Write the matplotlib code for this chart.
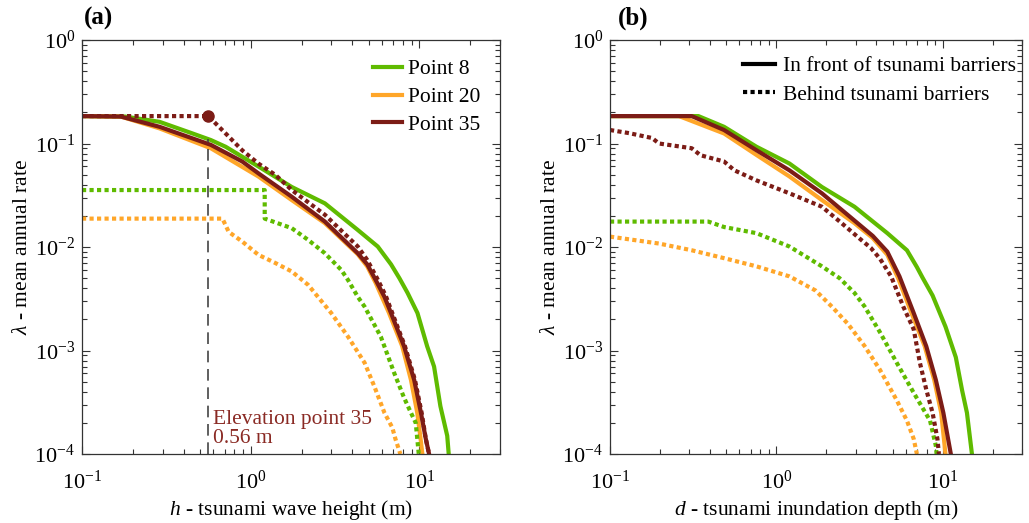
import math

import matplotlib
matplotlib.use("Agg")
import matplotlib.pyplot as plt
from matplotlib.lines import Line2D
from matplotlib.ticker import FuncFormatter, LogLocator, NullFormatter

plt.rcParams["font.family"] = ["Liberation Serif", "DejaVu Serif"]
plt.rcParams["mathtext.fontset"] = "custom"
plt.rcParams["mathtext.rm"] = "Liberation Serif"
plt.rcParams["mathtext.it"] = "Liberation Serif:italic"

GREEN = "#5fbb00"
ORANGE = "#ffa629"
DARKRED = "#7c1c16"

point_labels = ["Point 8", "Point 20", "Point 35"]
barrier_labels = ["In front of tsunami barriers", "Behind tsunami barriers"]
elevation_35 = 0.56

# (a) tsunami wave height, in front of barriers (solid)
h8_x = [0.1, 0.18, 0.288, 0.452, 0.58, 0.71, 1.11, 1.75, 2.75, 4.31, 5.66, 6.78, 7.6, 8.5, 9.73, 11.1, 12.2, 13.3, 14.6, 14.9]
h8_y = [0.184, 0.182, 0.162, 0.125, 0.108, 0.093, 0.060, 0.038, 0.0264, 0.0146, 0.0101, 0.0068, 0.005, 0.0036, 0.0023, 0.0011, 7e-4, 2.9e-4, 1.5e-4, 1e-4]
h20_x = [0.1, 0.17, 0.288, 0.58, 1.11, 1.75, 2.75, 4.31, 4.9, 5.5, 6.6, 7.9, 8.9, 9.7, 10.1, 10.4]
h20_y = [0.184, 0.182, 0.14, 0.09, 0.048, 0.0284, 0.017, 0.0085, 0.0065, 0.0045, 0.0023, 0.0011, 5.2e-4, 2.5e-4, 1.5e-4, 1e-4]
h35_x = [0.1, 0.17, 0.288, 0.452, 0.58, 0.89, 1.11, 1.75, 2.75, 4.31, 4.9, 5.5, 6.2, 6.78, 8.1, 9.3, 10.2, 10.9, 11.4]
h35_y = [0.184, 0.182, 0.145, 0.112, 0.097, 0.067, 0.0515, 0.0306, 0.0176, 0.0087, 0.0068, 0.0048, 0.0033, 0.0023, 0.0011, 5.2e-4, 2.5e-4, 1.4e-4, 1e-4]

# (a) behind barriers (dotted)
h8b_x = [0.1, 1.21, 1.21, 1.75, 2.19, 2.75, 3.44, 3.77, 4.31, 4.73, 5.9, 7.1, 8.1, 8.9, 9.5, 9.9]
h8b_y = [0.0355, 0.0355, 0.0188, 0.0152, 0.0117, 0.0087, 0.006, 0.0048, 0.0033, 0.00265, 0.00136, 6e-4, 3.5e-4, 2.5e-4, 2e-4, 1e-4]
h20b_x = [0.1, 0.68, 0.74, 0.89, 1.11, 1.4, 1.75, 2.19, 2.5, 3.0, 3.77, 4.73, 5.4, 6.2, 6.9, 7.2, 7.7]
h20b_y = [0.0188, 0.0188, 0.014, 0.0113, 0.0084, 0.007, 0.0058, 0.0043, 0.0033, 0.0023, 0.00136, 7.6e-4, 4.5e-4, 2.5e-4, 1.8e-4, 1.4e-4, 1e-4]
h35b_x = [0.1, 0.56, 0.71, 0.89, 1.11, 1.4, 1.75, 2.75, 4.31, 4.9, 5.6, 6.3, 6.9, 8.2, 9.4, 10.3, 10.9, 11.4]
h35b_y = [0.184, 0.184, 0.125, 0.086, 0.064, 0.0497, 0.0355, 0.0205, 0.0101, 0.0075, 0.005, 0.0034, 0.0023, 0.0011, 5.2e-4, 2.5e-4, 1.4e-4, 1e-4]

# (b) tsunami inundation depth, in front of barriers (solid)
d8_x = [0.1, 0.34, 0.485, 0.76, 1.2, 1.88, 2.95, 4.65, 6.1, 7.0, 7.6, 8.7, 10.4, 12.0, 13.1, 14.0, 15.0]
d8_y = [0.184, 0.184, 0.145, 0.093, 0.064, 0.038, 0.0245, 0.0136, 0.0093, 0.0064, 0.005, 0.0034, 0.0017, 8.6e-4, 4.1e-4, 2.5e-4, 1e-4]
d20_x = [0.1, 0.26, 0.485, 0.76, 1.2, 1.88, 2.95, 3.8, 4.65, 5.4, 6.5, 7.8, 8.9, 9.8, 10.4]
d20_y = [0.184, 0.184, 0.125, 0.0775, 0.048, 0.0284, 0.017, 0.0122, 0.0084, 0.005, 0.0023, 0.0011, 5.2e-4, 2.5e-4, 1e-4]
d35_x = [0.1, 0.31, 0.485, 0.76, 1.2, 1.88, 2.95, 3.8, 4.65, 5.5, 6.7, 7.97, 9.1, 10.1, 11.2]
d35_y = [0.184, 0.184, 0.135, 0.086, 0.055, 0.033, 0.018, 0.0128, 0.009, 0.0052, 0.0023, 0.0011, 5.2e-4, 2.5e-4, 1e-4]

# (b) behind barriers (dotted)
d8b_x = [0.1, 0.39, 0.485, 0.76, 1.2, 1.88, 2.4, 2.95, 3.4, 4.2, 5.3, 6.7, 8.4, 9.1, 9.2]
d8b_y = [0.0176, 0.0176, 0.0156, 0.0136, 0.0101, 0.0065, 0.005, 0.0036, 0.00265, 0.0015, 7.6e-4, 3.9e-4, 2.1e-4, 1.2e-4, 1e-4]
d20b_x = [0.1, 0.197, 0.31, 0.485, 0.76, 1.2, 1.72, 2.16, 2.7, 3.4, 4.2, 5.3, 6.1, 6.7, 7.0]
d20b_y = [0.0126, 0.0108, 0.0093, 0.0078, 0.0065, 0.0052, 0.0038, 0.00265, 0.0018, 0.0011, 6.5e-4, 3.3e-4, 2.1e-4, 1.4e-4, 1e-4]
d35b_x = [0.1, 0.13, 0.179, 0.197, 0.31, 0.35, 0.485, 0.56, 0.76, 1.2, 1.88, 2.47, 3.24, 3.7, 4.2, 4.9, 5.8, 6.7, 7.3, 8.0, 8.7, 9.3, 9.5]
d35b_y = [0.135, 0.126, 0.113, 0.1, 0.09, 0.077, 0.067, 0.055, 0.044, 0.033, 0.0245, 0.017, 0.0117, 0.0098, 0.0077, 0.0052, 0.00265, 0.0016, 7.6e-4, 4.1e-4, 2.5e-4, 1.4e-4, 1e-4]

DOT = (0, (1, 0.8))
LW = 3.0


def style_axis(ax, xlabel):
    ax.set_xscale("log")
    ax.set_yscale("log")
    ax.set_xlim(0.1, 30)
    ax.set_ylim(1e-4, 1)
    ax.xaxis.set_major_locator(LogLocator(base=10, numticks=10))
    ax.yaxis.set_major_locator(LogLocator(base=10, numticks=10))
    ax.xaxis.set_minor_locator(LogLocator(base=10, subs=range(2, 10), numticks=20))
    ax.yaxis.set_minor_locator(LogLocator(base=10, subs=range(2, 10), numticks=20))
    fmt = FuncFormatter(lambda v, p: r"$10^{%d}$" % round(math.log10(v)))
    ax.xaxis.set_major_formatter(fmt)
    ax.yaxis.set_major_formatter(fmt)
    ax.xaxis.set_minor_formatter(NullFormatter())
    ax.yaxis.set_minor_formatter(NullFormatter())
    ax.tick_params(which="both", direction="in", top=True, right=True,
                   labelsize=16, color="#333333")
    ax.tick_params(axis="x", which="both", pad=12)
    ax.tick_params(axis="y", which="both", pad=5)
    ax.tick_params(which="major", length=6, width=0.8)
    ax.tick_params(which="minor", length=3.5, width=0.8)
    for s in ax.spines.values():
        s.set_color("#333333")
        s.set_linewidth(0.9)
    ax.set_xlabel(xlabel, fontsize=15.5, labelpad=3)
    ax.set_ylabel(r"$\lambda$ - mean annual rate", fontsize=15.5, labelpad=2)


fig = plt.figure(figsize=(10.29, 5.23), dpi=100)
ax1 = fig.add_axes([82 / 1029, 69 / 523, 418 / 1029, 414 / 523])
ax2 = fig.add_axes([610 / 1029, 69 / 523, 412 / 1029, 414 / 523])

# panel (a)
l8, = ax1.plot(h8_x, h8_y, color=GREEN, lw=LW, label=point_labels[0])
l20, = ax1.plot(h20_x, h20_y, color=ORANGE, lw=LW, label=point_labels[1])
ax1.plot(h8b_x, h8b_y, color=GREEN, lw=LW, ls=DOT)
ax1.plot(h20b_x, h20b_y, color=ORANGE, lw=LW, ls=DOT)
ax1.plot(h35b_x, h35b_y, color=DARKRED, lw=LW, ls=DOT)
l35, = ax1.plot(h35_x, h35_y, color=DARKRED, lw=LW, label=point_labels[2])
ax1.plot([elevation_35], [0.184], "o", color=DARKRED, ms=8)
ax1.plot([elevation_35, elevation_35], [1e-4, 0.11], color="#444444", lw=1.2,
         ls=(0, (7, 4)))
ax1.text(0.6, 1.28e-4, "Elevation point 35\n0.56 m", color="#8a2a24",
         fontsize=15.5, ha="left", va="baseline", linespacing=1.0)
style_axis(ax1, r"$\it{h}$ - tsunami wave height (m)")
ax1.legend(handles=[l8, l20, l35], loc="upper right", frameon=False,
           fontsize=15.5, handlelength=1.35, handletextpad=0.3,
           labelspacing=0.35, borderaxespad=0.5)

# panel (b)
ax2.plot(d8_x, d8_y, color=GREEN, lw=LW)
ax2.plot(d20_x, d20_y, color=ORANGE, lw=LW)
ax2.plot(d8b_x, d8b_y, color=GREEN, lw=LW, ls=DOT)
ax2.plot(d20b_x, d20b_y, color=ORANGE, lw=LW, ls=DOT)
ax2.plot(d35b_x, d35b_y, color=DARKRED, lw=LW, ls=DOT)
ax2.plot(d35_x, d35_y, color=DARKRED, lw=LW)
style_axis(ax2, r"$\it{d}$ - tsunami inundation depth (m)")
proxies = [Line2D([], [], color="black", lw=LW),
           Line2D([], [], color="black", lw=LW, ls=DOT)]
ax2.legend(proxies, barrier_labels, loc="upper right", bbox_to_anchor=(1.0, 0.977),
           frameon=False, fontsize=15.5, handlelength=1.5, handletextpad=0.33,
           labelspacing=0.4, borderaxespad=0.1, borderpad=0.2)

fig.text(84 / 1029, 1 - 18 / 523, "(a)", fontsize=18, fontweight="bold",
         ha="left", va="center")
fig.text(618 / 1029, 1 - 18 / 523, "(b)", fontsize=18, fontweight="bold",
         ha="left", va="center")

fig.savefig("out.png", dpi=100)
